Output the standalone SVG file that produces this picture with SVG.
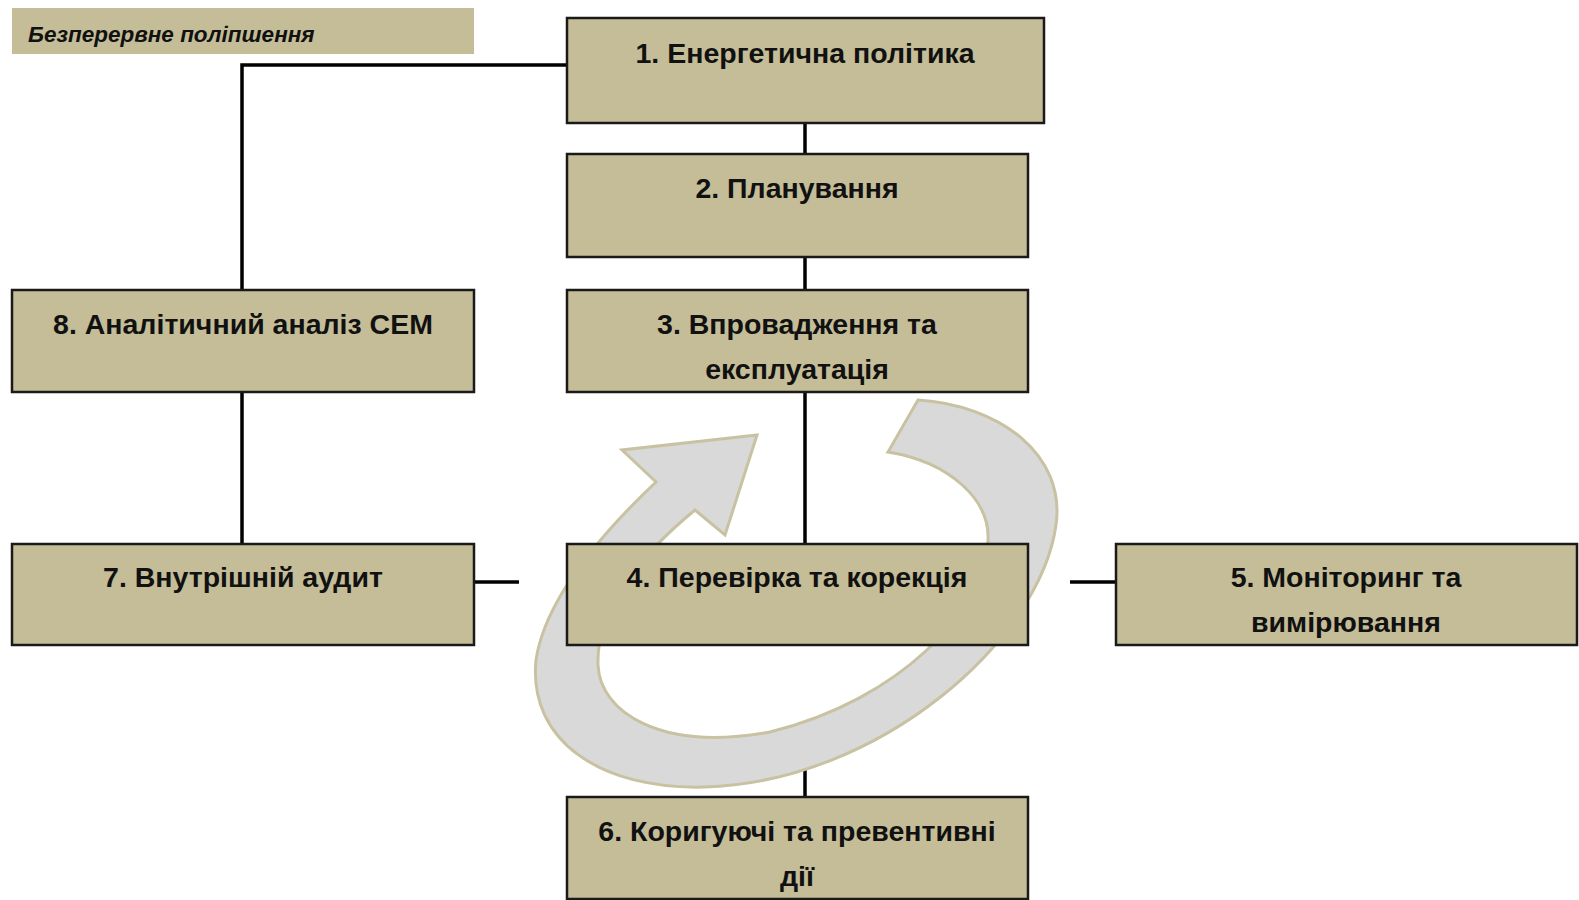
<svg xmlns="http://www.w3.org/2000/svg" width="1579" height="900" viewBox="0 0 1579 900">
<style>
.box{fill:#c4bd97;stroke:#1a1a1a;stroke-width:2.5}
.t{font-family:"Liberation Sans",Arial,sans-serif;font-weight:bold;font-size:28.5px;fill:#111;text-anchor:middle}
.ln{stroke:#000;stroke-width:3.5;fill:none}
</style>
<rect width="1579" height="900" fill="#ffffff"/>
<g id="title">
<rect x="12" y="8" width="462" height="46" fill="#c4bd97"/>
<text x="28" y="42" font-family="Liberation Sans,Arial,sans-serif" font-weight="bold" font-style="italic" font-size="22.5" fill="#111">Безперервне поліпшення</text>
</g>
<g id="connectors">
<polyline class="ln" points="567,65 242,65 242,290"/>
<line class="ln" x1="805" y1="123" x2="805" y2="154"/>
<line class="ln" x1="805" y1="257" x2="805" y2="290"/>
<line class="ln" x1="805" y1="392" x2="805" y2="544"/>
<line class="ln" x1="242" y1="392" x2="242" y2="544"/>
<line class="ln" x1="474" y1="582" x2="519" y2="582"/>
<line class="ln" x1="1070" y1="582" x2="1116" y2="582"/>
<line class="ln" x1="805" y1="763" x2="805" y2="797"/>
</g>
<g id="cycle-arrow">
<path d="M757,435 L622,450 L656,482 C600,535 545,600 536,660 C528,740 600,790 705,787 C880,782 1040,640 1056,525 C1066,455 1000,405 918,400 L888,452 C950,462 990,500 988,540 C985,610 900,700 770,732 C660,752 600,712 598,665 C596,610 640,555 695,510 L725,535 Z" fill="#d9d9d9" stroke="#c8c2a2" stroke-width="3" stroke-linejoin="miter"/>
</g>
<g id="n1"><rect class="box" x="567" y="18" width="477" height="105"/><text class="t" x="805" y="63">1. Енергетична політика</text></g>
<g id="n2"><rect class="box" x="567" y="154" width="461" height="103"/><text class="t" x="797" y="198">2. Планування</text></g>
<g id="n3"><rect class="box" x="567" y="290" width="461" height="102"/><text class="t" x="797" y="334">3. Впровадження та</text><text class="t" x="797" y="379">експлуатація</text></g>
<g id="n4"><rect class="box" x="567" y="544" width="461" height="101"/><text class="t" x="797" y="587">4. Перевірка та корекція</text></g>
<g id="n5"><rect class="box" x="1116" y="544" width="461" height="101"/><text class="t" x="1346" y="587">5. Моніторинг та</text><text class="t" x="1346" y="632">вимірювання</text></g>
<g id="n6"><rect class="box" x="567" y="797" width="461" height="102"/><text class="t" x="797" y="841">6. Коригуючі та превентивні</text><text class="t" x="797" y="886">дії</text></g>
<g id="n7"><rect class="box" x="12" y="544" width="462" height="101"/><text class="t" x="243" y="587">7. Внутрішній аудит</text></g>
<g id="n8"><rect class="box" x="12" y="290" width="462" height="102"/><text class="t" x="243" y="334">8. Аналітичний аналіз СЕМ</text></g>
</svg>
